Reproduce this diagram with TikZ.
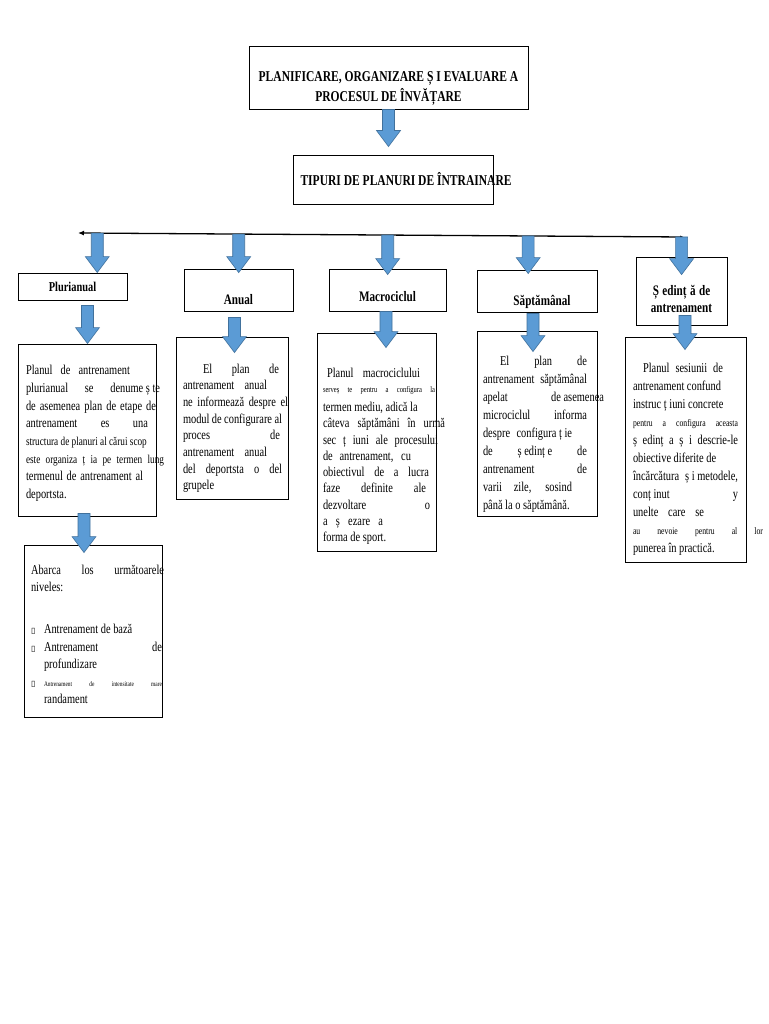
\documentclass[tikz,border=0pt]{standalone}
\usepackage{fontspec}
\setmainfont[FakeStretch=0.77]{Liberation Serif}
\newfontfamily\symfont{DejaVu Sans}
\usepackage{tikz}
\usetikzlibrary{calc,positioning,arrows.meta}

\definecolor{arrowblue}{RGB}{91,155,213}
\definecolor{arrowedge}{RGB}{65,113,156}

\newcommand{\natsp}{\spaceskip=0pt\xspaceskip=0pt\relax}
\newcommand{\jline}[2][\linewidth]{\makebox[#1][s]{#2}}
\newcommand{\bul}{\makebox[13pt][l]{\symfont\fontsize{8}{8}\selectfont ▯}}

\tikzstyle{topbox}  = [draw, line width=0.9pt, font=\fontsize{15}{20}\selectfont\bfseries, inner xsep=7pt, inner ysep=2pt]
\tikzstyle{headbox} = [draw, line width=0.9pt, font=\fontsize{14.5}{17}\selectfont\bfseries, align=center, inner sep=2pt]
\tikzstyle{textbox} = [draw, line width=0.9pt, align=left, inner ysep=2pt]
\tikzset{
	barline/.style={line width=1.3pt, {Latex[length=6pt,width=5pt]}-{Latex[length=4pt,width=3pt]}},
	blockarrow/.style={draw=arrowedge, fill=arrowblue, line width=0.6pt,
		to path={let \p1=(\tikztostart), \p2=(\tikztotarget) in
			(\x1-6pt,\y1) -- (\x1-6pt,\y2+16pt) -- (\x1-12pt,\y2+16pt) -- (\x1,\y2)
			-- (\x1+12pt,\y2+16pt) -- (\x1+6pt,\y2+16pt) -- (\x1+6pt,\y1) -- cycle}},
}

\begin{document}
\begin{tikzpicture}[x=1pt, y=-1pt]
        \useasboundingbox[fill=white] (0,0) rectangle (768,1024);

        \node[topbox, minimum width=279pt, minimum height=63pt, text width=265pt, align=center] (title) at (388.5,77.5)
                {\natsp\rule{0pt}{32pt}\mbox{PLANIFICARE, ORGANIZARE Ș I EVALUARE A}\\\mbox{PROCESUL DE ÎNVĂȚARE}};
        \node[topbox, minimum width=200pt, minimum height=49pt, text width=186pt, align=left] (types) at (393.5,179.5)
                {\natsp\mbox{TIPURI DE PLANURI DE ÎNTRAINARE}};

        \coordinate (barL) at (78,233);
        \coordinate (barR) at (684,237);
        \draw[barline] (barL) -- (barR);

        % tipuri de planuri
        \node[headbox, font=\fontsize{13.5}{16}\selectfont\bfseries, minimum width=109pt, minimum height=27pt] (plur) at (72.5,286.5) {Plurianual};
        \node[headbox, minimum width=109pt, minimum height=42pt, text width=103pt] (anual) at (238.5,290) {\rule{0pt}{29.6pt}Anual};
        \node[headbox, minimum width=117pt, minimum height=42pt, text width=111pt] (macro) at (387.5,290) {\rule{0pt}{24pt}Macrociclul};
        \node[headbox, minimum width=120pt, minimum height=42pt, text width=114pt] (sapt) at (537,291) {\rule{0pt}{33pt}\hspace*{10pt}Săptămânal};
        \node[headbox, minimum width=91pt, minimum height=68pt, text width=85pt] (sed) at (681.5,291) {\natsp\rule{0pt}{27pt}Ș edinț ă de\\antrenament};

        % descrieri
        \node[textbox, font=\fontsize{13.5}{17.7}\selectfont, inner xsep=8pt, text width=122pt, minimum height=172pt] (plurtxt) at (87,430) {\natsp
                \rule{0pt}{16pt}\jline[104pt]{Planul de antrenament}\\
                \jline[134pt]{plurianual\hfill se\hfill denume ș te}\\
                \jline[130pt]{de asemenea plan de etape de}\\
                \jline{antrenament\hfill es\hfill una}\\
                \mbox{\fontsize{12}{14}\selectfont structura de planuri al cărui scop}\\
                {\fontsize{12}{14}\selectfont\jline[138pt]{este organiza ț ia pe termen lung}}\\
                \jline[117pt]{termenul de antrenament al}\\
                deportsta.};
        \node[textbox, font=\fontsize{13.5}{16.7}\selectfont, inner xsep=7pt, text width=98pt, minimum height=162pt] (anualtxt) at (232,418) {\natsp
                \rule{0pt}{30pt}\jline[96pt]{\hspace*{20pt}El plan de}\\
                \jline[84pt]{antrenament anual}\\
                \jline[105pt]{ne informează despre el}\\
                \jline[99pt]{modul de configurare al}\\
                \jline[97pt]{proces\hfill de}\\
                \jline[84pt]{antrenament anual}\\
                \jline[99pt]{del deportsta o del}\\
                grupele};
        \node[textbox, font=\fontsize{13.5}{16.25}\selectfont, inner xsep=6pt, text width=107pt, minimum height=218pt] (macrotxt) at (376.5,442) {\natsp
                \rule{0pt}{38pt}\jline[97pt]{\hspace*{4pt}Planul macrociclului}\\[-1.25pt]
                {\fontsize{8.5}{10}\selectfont\jline[112pt]{serveș te pentru a configura la}}\\[2.75pt]
                \mbox{termen mediu, adică la}\\
                \jline[122pt]{câteva săptămâni în urmă}\\
                \jline[115pt]{sec ț iuni ale procesului}\\
                \jline[88pt]{de antrenament, cu}\\
                \jline[106pt]{obiectivul de a lucra}\\
                \jline[103pt]{faze definite ale}\\
                \jline{dezvoltare\hfill o}\\
                \jline[60pt]{a ș ezare a}\\
                forma de sport.};
        \node[textbox, font=\fontsize{13.5}{17.9}\selectfont, inner xsep=6pt, text width=108pt, minimum height=185pt] (sapttxt) at (537,423.5) {\natsp
                \rule{0pt}{31pt}\jline[104pt]{\hspace*{17pt}El plan de}\\
                \jline[104pt]{antrenament săptămânal}\\
                \jline[121pt]{apelat\hfill de asemenea}\\
                \jline[104pt]{microciclul\hfill informa}\\
                \jline[89pt]{despre\hfill configura ț ie}\\
                \jline[104pt]{de\hfill ș edinț e\hfill de}\\
                \jline[104pt]{antrenament\hfill de}\\
                \jline[89pt]{varii zile, sosind}\\
                până la o săptămână.};
        \node[textbox, font=\fontsize{13.5}{18}\selectfont, inner xsep=8pt, text width=105pt, minimum height=225pt] (sedtxt) at (685.5,449.5) {\natsp
                \rule{0pt}{28.5pt}\jline[90pt]{\hspace*{10pt}Planul sesiunii de}\\
                \mbox{antrenament confund}\\
                \mbox{instruc ț iuni concrete}\\
                {\fontsize{10}{12}\selectfont\jline{pentru a configura aceasta}}\\
                \jline{ș edinț a ș i descrie-le}\\
                \mbox{obiective diferite de}\\
                \jline{încărcătura\hfill ș i metodele,}\\
                \jline{conț inut\hfill y}\\
                \jline[71pt]{unelte care se}\\
                {\fontsize{10}{12}\selectfont\jline[130pt]{au nevoie pentru al lor}}\\
                punerea în practică.};
        \node[textbox, font=\fontsize{13.5}{17.5}\selectfont, inner xsep=7pt, text width=124pt, minimum height=172pt] (abarca) at (93,631) {\natsp
                \rule{0pt}{16pt}\jline[133pt]{Abarca los următoarele}\\
                niveles:\\[24.5pt]
                \bul Antrenament de bază\\
                \bul\jline[118pt]{Antrenament\hfill de}\\
                \hspace*{13pt}profundizare\\
                \bul{\fontsize{7}{8}\selectfont\jline[118pt]{Antrenament de intensitate mare}}\\
                \hspace*{13pt}randament};

        % sageti
        \draw[blockarrow] (title.south) to ($(types.north)+(0,8pt)$);
        \draw[blockarrow] ($(barL)!([xshift=24.5pt]plur.north)!(barR)$) to (plur.north);
        \draw[blockarrow] ($(barL)!(anual.north)!(barR)$) to ($(anual.north)+(0,-4pt)$);
        \draw[blockarrow] ($(barL)!(macro.north)!(barR)$) to ($(macro.north)+(0,-6pt)$);
        \draw[blockarrow] ($(barL)!([xshift=-9pt]sapt.north)!(barR)$) to ($(sapt.north)+(0,-4pt)$);
        \draw[blockarrow] ($(barL)!(sed.north)!(barR)$) to ($(sed.north)+(0,-18pt)$);
        \draw[blockarrow] ($(plur.south -| plurtxt.north)+(0.5pt,-5pt)$) to (plurtxt.north);
        \draw[blockarrow] ($(anual.south)+(-4pt,-6pt)$) to ($(anualtxt.north)+(0,-16pt)$);
        \draw[blockarrow] ($(macro.south)+(-1.5pt,0)$) to ($(macrotxt.north)+(0,-15pt)$);
        \draw[blockarrow] ($(sapt.south)+(-4pt,-1pt)$) to ($(sapttxt.north)+(0,-21pt)$);
        \draw[blockarrow] ($(sed.south)+(3.5pt,10pt)$) to ($(sedtxt.north)+(0,-13pt)$);
        \draw[blockarrow] ($(plurtxt.south)+(-3pt,3pt)$) to ($(abarca.north)+(0,-8pt)$);
\end{tikzpicture}
\end{document}
